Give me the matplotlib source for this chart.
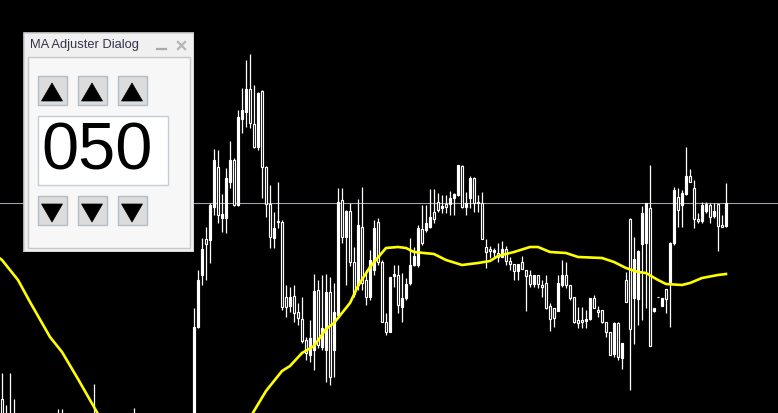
import numpy as np
import matplotlib
matplotlib.use("Agg")
import matplotlib.pyplot as plt
from matplotlib.patches import Rectangle, Polygon

# bars to the left of the dialog (only their tops poke into view)
left_bar = [0, 1, 2, 3, 14, 15, 23, 33]
left_open = [101, 80, 80, 80, 75, 75, 80, 80]
left_high = [127, 95, 127, 101, 91, 91, 116, 92]
left_low = [60, 60, 60, 65, 60, 60, 65, 65]
left_close = [70, 70, 75, 75, 70, 70, 75, 75]

# main run of bars, starting at bar 48
first_bar = 48
opens = [60, 173, 225, 261, 260, 293, 333, 282, 282, 318,
         340, 295, 381, 388, 411, 376, 353, 409, 333, 296,
         262, 279, 278, 203, 194, 204, 188, 181, 160, 145,
         150, 210, 153, 150, 208, 150, 185, 300, 263, 289,
         238, 215, 273, 220, 203, 230, 278, 238, 178, 168,
         224, 225, 193, 202, 217, 235, 235, 271, 270, 273,
         288, 298, 292, 296, 296, 302, 305, 334, 293, 302,
         322, 298, 297, 253, 251, 248, 247, 243, 251, 239,
         236, 229, 238, 230, 225, 216, 225, 215, 217, 194,
         192, 189, 215, 225, 215, 203, 180, 180, 179, 181,
         202, 190, 190, 178, 168, 146, 177, 142, 220, 281,
         202, 201, 256, 257, 292, 189, 203, 194, 211, 218,
         257, 303, 295, 306, 324, 312, 281, 279, 289, 295,
         284, 296, 275, 274]
highs = [192, 230, 262, 273, 297, 351, 350, 306, 332, 359,
         342, 390, 412, 440, 446, 415, 408, 410, 334, 315,
         288, 318, 280, 215, 213, 215, 197, 203, 163, 180,
         226, 220, 225, 226, 223, 217, 312, 312, 290, 297,
         253, 301, 313, 230, 250, 280, 282, 240, 187, 223,
         235, 235, 227, 222, 262, 253, 275, 295, 295, 311,
         311, 307, 305, 305, 309, 307, 335, 335, 308, 324,
         323, 305, 308, 261, 254, 252, 257, 259, 254, 243,
         236, 236, 244, 230, 230, 225, 225, 220, 225, 197,
         192, 225, 240, 238, 215, 203, 193, 193, 190, 202,
         205, 194, 190, 178, 168, 178, 178, 157, 228, 282,
         263, 250, 294, 297, 335, 192, 203, 202, 211, 258,
         313, 312, 310, 353, 331, 320, 287, 298, 298, 297,
         297, 296, 285, 317]
lows = [50, 172, 215, 220, 237, 285, 277, 268, 267, 312,
        294, 294, 367, 373, 372, 352, 350, 302, 283, 252,
        252, 272, 190, 183, 188, 178, 175, 157, 140, 138,
        130, 152, 150, 118, 115, 123, 182, 257, 215, 234,
        203, 210, 210, 195, 200, 225, 235, 178, 165, 168,
        213, 187, 178, 200, 215, 234, 233, 255, 268, 272,
        277, 288, 287, 287, 285, 285, 304, 292, 285, 292,
        288, 288, 261, 232, 242, 243, 238, 243, 235, 230,
        220, 220, 231, 189, 213, 213, 212, 203, 191, 169,
        173, 189, 213, 212, 200, 177, 172, 172, 172, 180,
        192, 183, 177, 163, 145, 143, 140, 131, 198, 110,
        156, 175, 180, 192, 154, 188, 203, 194, 187, 173,
        255, 273, 273, 305, 318, 272, 277, 277, 287, 277,
        282, 249, 273, 273]
closes = [173, 220, 251, 256, 295, 340, 285, 286, 322, 340,
          295, 383, 390, 411, 377, 353, 407, 333, 296, 263,
          272, 278, 193, 193, 203, 187, 182, 159, 147, 162,
          209, 155, 172, 208, 123, 188, 298, 263, 289, 238,
          206, 275, 217, 203, 240, 272, 238, 178, 168, 223,
          226, 195, 202, 216, 235, 244, 272, 257, 277, 283,
          281, 290, 294, 293, 302, 306, 335, 293, 297, 322,
          297, 297, 261, 248, 249, 250, 243, 251, 239, 236,
          229, 236, 231, 224, 216, 225, 216, 213, 192, 181,
          182, 217, 225, 215, 202, 178, 177, 178, 181, 202,
          192, 188, 178, 168, 145, 177, 143, 157, 198, 171,
          241, 249, 287, 297, 154, 192, 203, 202, 201, 257,
          310, 290, 307, 324, 318, 281, 279, 295, 296, 283,
          289, 274, 273, 297]

# 50 period moving average (nan = gap below the view)
ma_bar = [-1, 0, 4, 7, 12, 15, 19, 24, 25, np.nan,
          62, 63, 66, 70, 72, 75, 78, 81, 83, 87, 89, 92, 96, 99, 101, 103,
          108, 111, 115, 119, 122, 124, 128, 132, 134, 137, 141, 144, 150,
          153, 156, 159, 161, 164, 166, 170, 172, 175, 179, 181]
ma_val = [243, 240, 220, 198, 163, 148, 121, 86, 79, np.nan,
          82, 89, 109, 129, 134, 147, 154, 171, 177, 197, 214, 233, 252, 253, 252, 248,
          246, 240, 235, 237, 239, 244, 248, 253, 253, 248, 247, 243, 242,
          238, 232, 228, 227, 220, 216, 215, 217, 222, 225, 226]

hline_price = 297
spinner_text = "050"

bar_idx = list(left_bar) + list(range(first_bar, first_bar + len(opens)))
o = np.array(left_open + opens, dtype=float)
h = np.array(left_high + highs, dtype=float)
l = np.array(left_low + lows, dtype=float)
c = np.array(left_close + closes, dtype=float)
x = np.array(bar_idx, dtype=float)

fig = plt.figure(figsize=(7.78, 4.13), dpi=100, facecolor="black")
ax = fig.add_axes([0, 0, 1, 1])
ax.set_facecolor("black")
ax.set_xlim(-0.5, 194)
ax.set_ylim(87, 500)
for s in ax.spines.values():
    s.set_visible(False)
ax.set_xticks([])
ax.set_yticks([])

ax.axhline(hline_price, color="#9aa3ae", lw=0.8, zorder=1)

# candles: wick, then body (bull = white fill, bear = hollow)
ax.vlines(x, l, h, color="white", lw=0.9, zorder=2)
bull = c >= o
ax.bar(x, c - o, bottom=o, width=0.55, color=np.where(bull, "white", "black"),
       edgecolor="white", linewidth=0.85, zorder=3)

ax.plot(ma_bar, ma_val, color="#ffff00", lw=1.9, zorder=4)

# ---- MA Adjuster dialog (pixel coordinates inside its own axes)
dl = fig.add_axes([23 / 778, 1 - 252 / 413, 171 / 778, 220 / 413])
dl.set_xlim(0, 171)
dl.set_ylim(220, 0)
dl.axis("off")

dl.add_patch(Rectangle((0.5, 0.5), 170, 219, facecolor="#f0f0f0", edgecolor="#d0d0d0", lw=1.2))
dl.add_patch(Rectangle((5, 25), 162, 191, facecolor="#f7f7f7", edgecolor="#c8c8c8", lw=1))
dl.text(6.5, 13, "MA Adjuster Dialog", fontsize=9.3, family="Liberation Sans",
        color="#33334a", va="center", ha="left")
dl.plot([134, 143], [17, 17], color="#a9a9a9", lw=1.6)
dl.plot([155, 162], [10, 17], color="#b5b5b5", lw=1.6)
dl.plot([155, 162], [17, 10], color="#b5b5b5", lw=1.6)

for bx in [15, 55, 95]:
    for by, up in [(44, True), (164, False)]:
        dl.add_patch(Rectangle((bx, by), 29, 29, facecolor="#dcdcdc", edgecolor="#b3bdc8", lw=1))
        if up:
            tri = [(bx + 3.5, by + 25), (bx + 24.5, by + 25), (bx + 14, by + 7)]
        else:
            tri = [(bx + 3.5, by + 8), (bx + 24.5, by + 8), (bx + 14, by + 26)]
        dl.add_patch(Polygon(tri, closed=True, facecolor="black", edgecolor="black", lw=0.5))

dl.add_patch(Rectangle((15, 84), 130, 69, facecolor="white", edgecolor="#c6ccd3", lw=1))
dl.text(18, 121, spinner_text, fontsize=48, family="Liberation Sans",
        color="black", va="center", ha="left")

fig.savefig("out.png", dpi=100, facecolor="black")
